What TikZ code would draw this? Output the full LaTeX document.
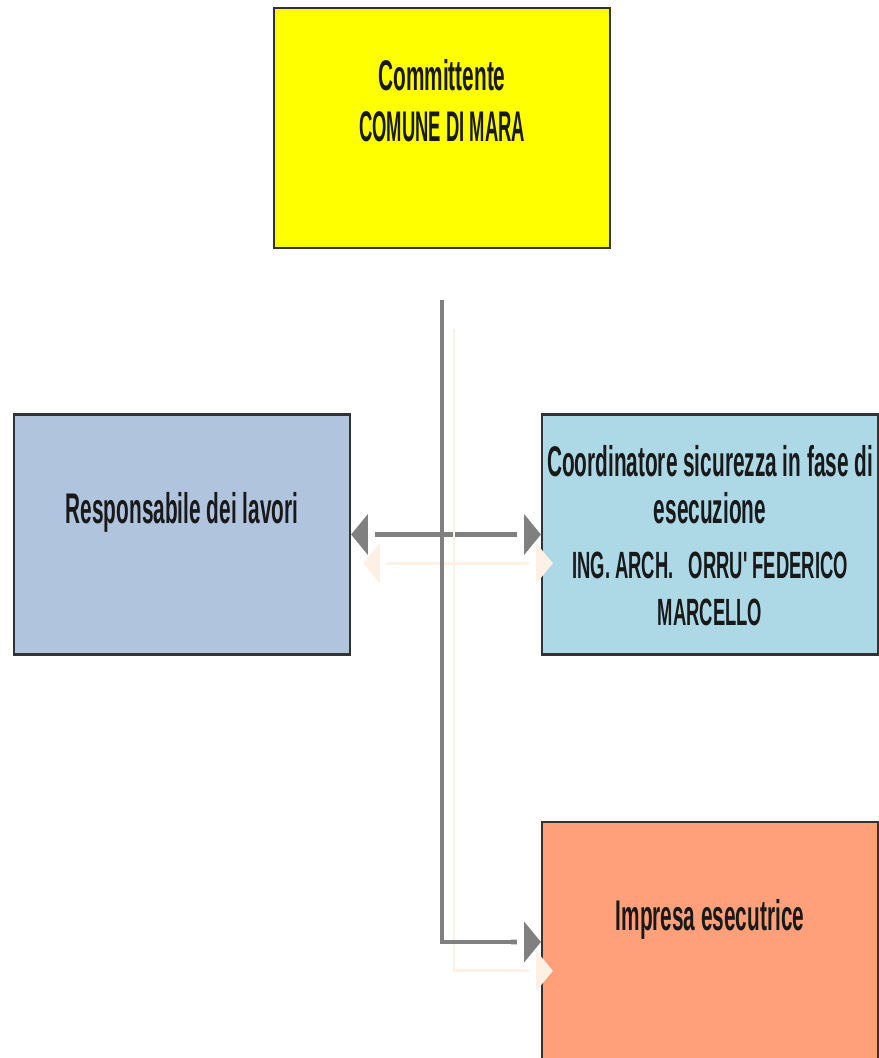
\documentclass[tikz,border=0pt]{standalone}
\usepackage{fontspec}
\newfontfamily\narrowfont[FakeStretch=0.485, BoldFont={Liberation Sans Bold}]{Liberation Sans}
\newfontfamily\capsfont[FakeStretch=0.43, BoldFont={Liberation Sans Bold}]{Liberation Sans}
\usetikzlibrary{positioning,arrows.meta}
\definecolor{boxyellow}{HTML}{FFFF00}
\definecolor{boxsteel}{HTML}{B0C4DE}
\definecolor{boxblue}{HTML}{ADD8E6}
\definecolor{boxsalmon}{HTML}{FFA07A}
\definecolor{linkgray}{HTML}{808080}
\definecolor{shadoworange}{HTML}{FFF0E6}
\newcommand{\bigtxt}{\fontsize{30.5}{33.3}\selectfont}
\newcommand{\smalltxt}{\fontsize{27}{33.3}\selectfont}
\tikzset{gaptip/.tip={Butt Cap[sep=0.18cm] . Triangle[length=0.42cm, width=1cm]}}

\begin{document}
\begin{tikzpicture}[x=0.025cm, y=-0.025cm,
  every node/.style={font=\narrowfont\bfseries\bigtxt, text=black!90},
  rolebox/.style={draw=black!80, line width=1.5pt, rectangle, minimum width=8.4cm, minimum height=6cm, inner sep=0pt},
  link/.style={draw=linkgray, line width=3.5pt,
    preaction={draw=shadoworange, line width=2pt, transform canvas={shift={(0.3cm,-0.72cm)}}}}]
  \useasboundingbox (0,0) rectangle (879,1058);

  \node[rolebox, fill=boxyellow] (comm) at (442,128) {};
  \node[rolebox, fill=boxsteel] (resp) at (182,534.5) {};
  \node[rolebox, fill=boxblue] (coord) at (710,534.5) {};
  \node[rolebox, fill=boxsalmon] (impr) at (710,942) {};

  % multi-line nodes sit on their last baseline
  \node[anchor=base, align=center] (commtxt) at (442,141) {Committente\\[1mm]{\capsfont\bfseries COMUNE DI MARA}};
  \node[anchor=base] (resptxt) at (182,523) {Responsabile dei lavori};
  \node[anchor=base, align=center] (coordtxt) at (710,625) {Coordinatore sicurezza in fase di\\esecuzione\\[2mm]{\smalltxt ING. ARCH.\ \ \ ORRU' FEDERICO}\\{\smalltxt MARCELLO}};
  \node[anchor=base] (imprtxt) at (710,930) {Impresa esecutrice};

  \coordinate (trunk) at (442,300);
  \draw[link, {gaptip}-{gaptip}] (resp) -- (coord);
  \draw[link, -{gaptip}] (trunk) |- (impr);
\end{tikzpicture}
\end{document}
